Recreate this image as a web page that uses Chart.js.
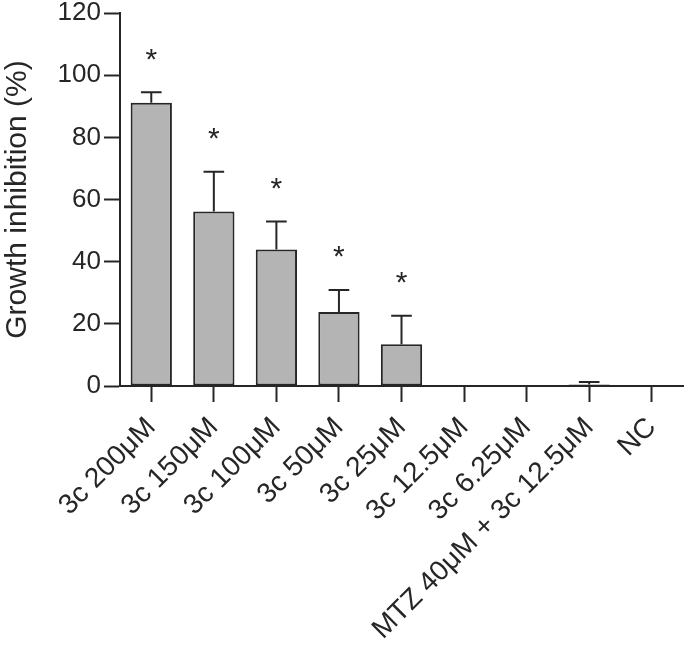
<!DOCTYPE html>
<html>
<head>
<meta charset="utf-8">
<script src="https://cdn.jsdelivr.net/npm/chart.js@4"></script>
<style>
  html, body { margin: 0; padding: 0; background: #fff; }
  #wrap { width: 685px; height: 650px; }
</style>
</head>
<body>
<div id="wrap"><canvas id="chart"></canvas></div>
<script>
'use strict';
var groups = ['3c 200\u03bcM', '3c 150\u03bcM', '3c 100\u03bcM', '3c 50\u03bcM', '3c 25\u03bcM',
    '3c 12.5\u03bcM', '3c 6.25\u03bcM', 'MTZ 40\u03bcM + 3c 12.5\u03bcM', 'NC'];
var inhibition = [91.1, 56.1, 43.9, 23.8, 13.4, 0, 0, 0.5, 0];
var errorUp = [3.4, 12.8, 9.0, 7.1, 9.2, 0, 0, 0.8, 0];
var significant = [true, true, true, true, true, false, false, false, false];
var yTicks = [0, 20, 40, 60, 80, 100, 120];

var ink = '#262626';
var font = 'Liberation Sans, Arial, sans-serif';

// error bars (upper only) and asterisks
var extrasPlugin = {
    id: 'extras',
    afterDatasetsDraw: function (chart) {
        var ctx = chart.ctx;
        var meta = chart.getDatasetMeta(0);
        var yScale = chart.scales.y;
        ctx.save();
        ctx.strokeStyle = ink;
        ctx.lineWidth = 2;
        for (var i = 0; i < meta.data.length; i++) {
            var bar = meta.data[i];
            var x = bar.x;
            var yTop = yScale.getPixelForValue(inhibition[i]);
            var yErr = yScale.getPixelForValue(inhibition[i] + errorUp[i]);
            if (errorUp[i] > 0) {
                var cap = bar.width / 4;
                ctx.beginPath();
                ctx.moveTo(x, yTop);
                ctx.lineTo(x, yErr);
                ctx.moveTo(x - cap, yErr);
                ctx.lineTo(x + cap, yErr);
                ctx.stroke();
            }
            if (significant[i]) {
                ctx.fillStyle = ink;
                ctx.font = '30px ' + font;
                ctx.textAlign = 'center';
                ctx.textBaseline = 'middle';
                ctx.fillText('*', x, yErr - 32);
            }
        }
        ctx.restore();
    }
};

var ctx = document.getElementById('chart');
var myChart = new Chart(ctx, {
    type: 'bar',
    data: {
        labels: groups,
        datasets: [{
            data: inhibition,
            backgroundColor: '#b4b4b4',
            borderColor: ink,
            borderWidth: 2,
            borderSkipped: false,
            barPercentage: 0.66,
            categoryPercentage: 1
        }]
    },
    options: {
        responsive: true,
        maintainAspectRatio: false,
        animation: false,
        events: [],
        layout: { padding: { top: 13, right: 2, left: 0, bottom: 0 } },
        plugins: {
            legend: { display: false },
            tooltip: { enabled: false }
        },
        scales: {
            x: {
                offset: true,
                grid: {
                    offset: false,
                    drawOnChartArea: false,
                    drawTicks: true,
                    tickLength: 16,
                    tickWidth: 2,
                    tickColor: ink
                },
                border: { color: ink, width: 2 },
                ticks: {
                    color: ink,
                    font: { family: font, size: 28 },
                    minRotation: 45,
                    maxRotation: 45,
                    autoSkip: false,
                    padding: 9
                },
                afterFit: function (scale) {
                    scale.height = 264;
                    scale.paddingLeft = 0;
                    scale.paddingRight = 0;
                }
            },
            y: {
                min: 0,
                max: 120,
                afterBuildTicks: function (scale) {
                    scale.ticks = yTicks.map(function (v) { return { value: v }; });
                },
                grid: {
                    drawOnChartArea: false,
                    drawTicks: true,
                    tickLength: 16,
                    tickWidth: 2,
                    tickColor: ink
                },
                border: { color: ink, width: 2 },
                ticks: {
                    color: ink,
                    font: { family: font, size: 26 },
                    padding: 3
                },
                title: {
                    display: true,
                    text: 'Growth inhibition (%)',
                    color: ink,
                    font: { family: font, size: 30 },
                    padding: { top: 0, bottom: 0 }
                },
                afterFit: function (scale) {
                    scale.width = 120;
                    scale.paddingTop = 0;
                    scale.paddingBottom = 0;
                }
            }
        }
    },
    plugins: [extrasPlugin]
});
</script>
</body>
</html>
